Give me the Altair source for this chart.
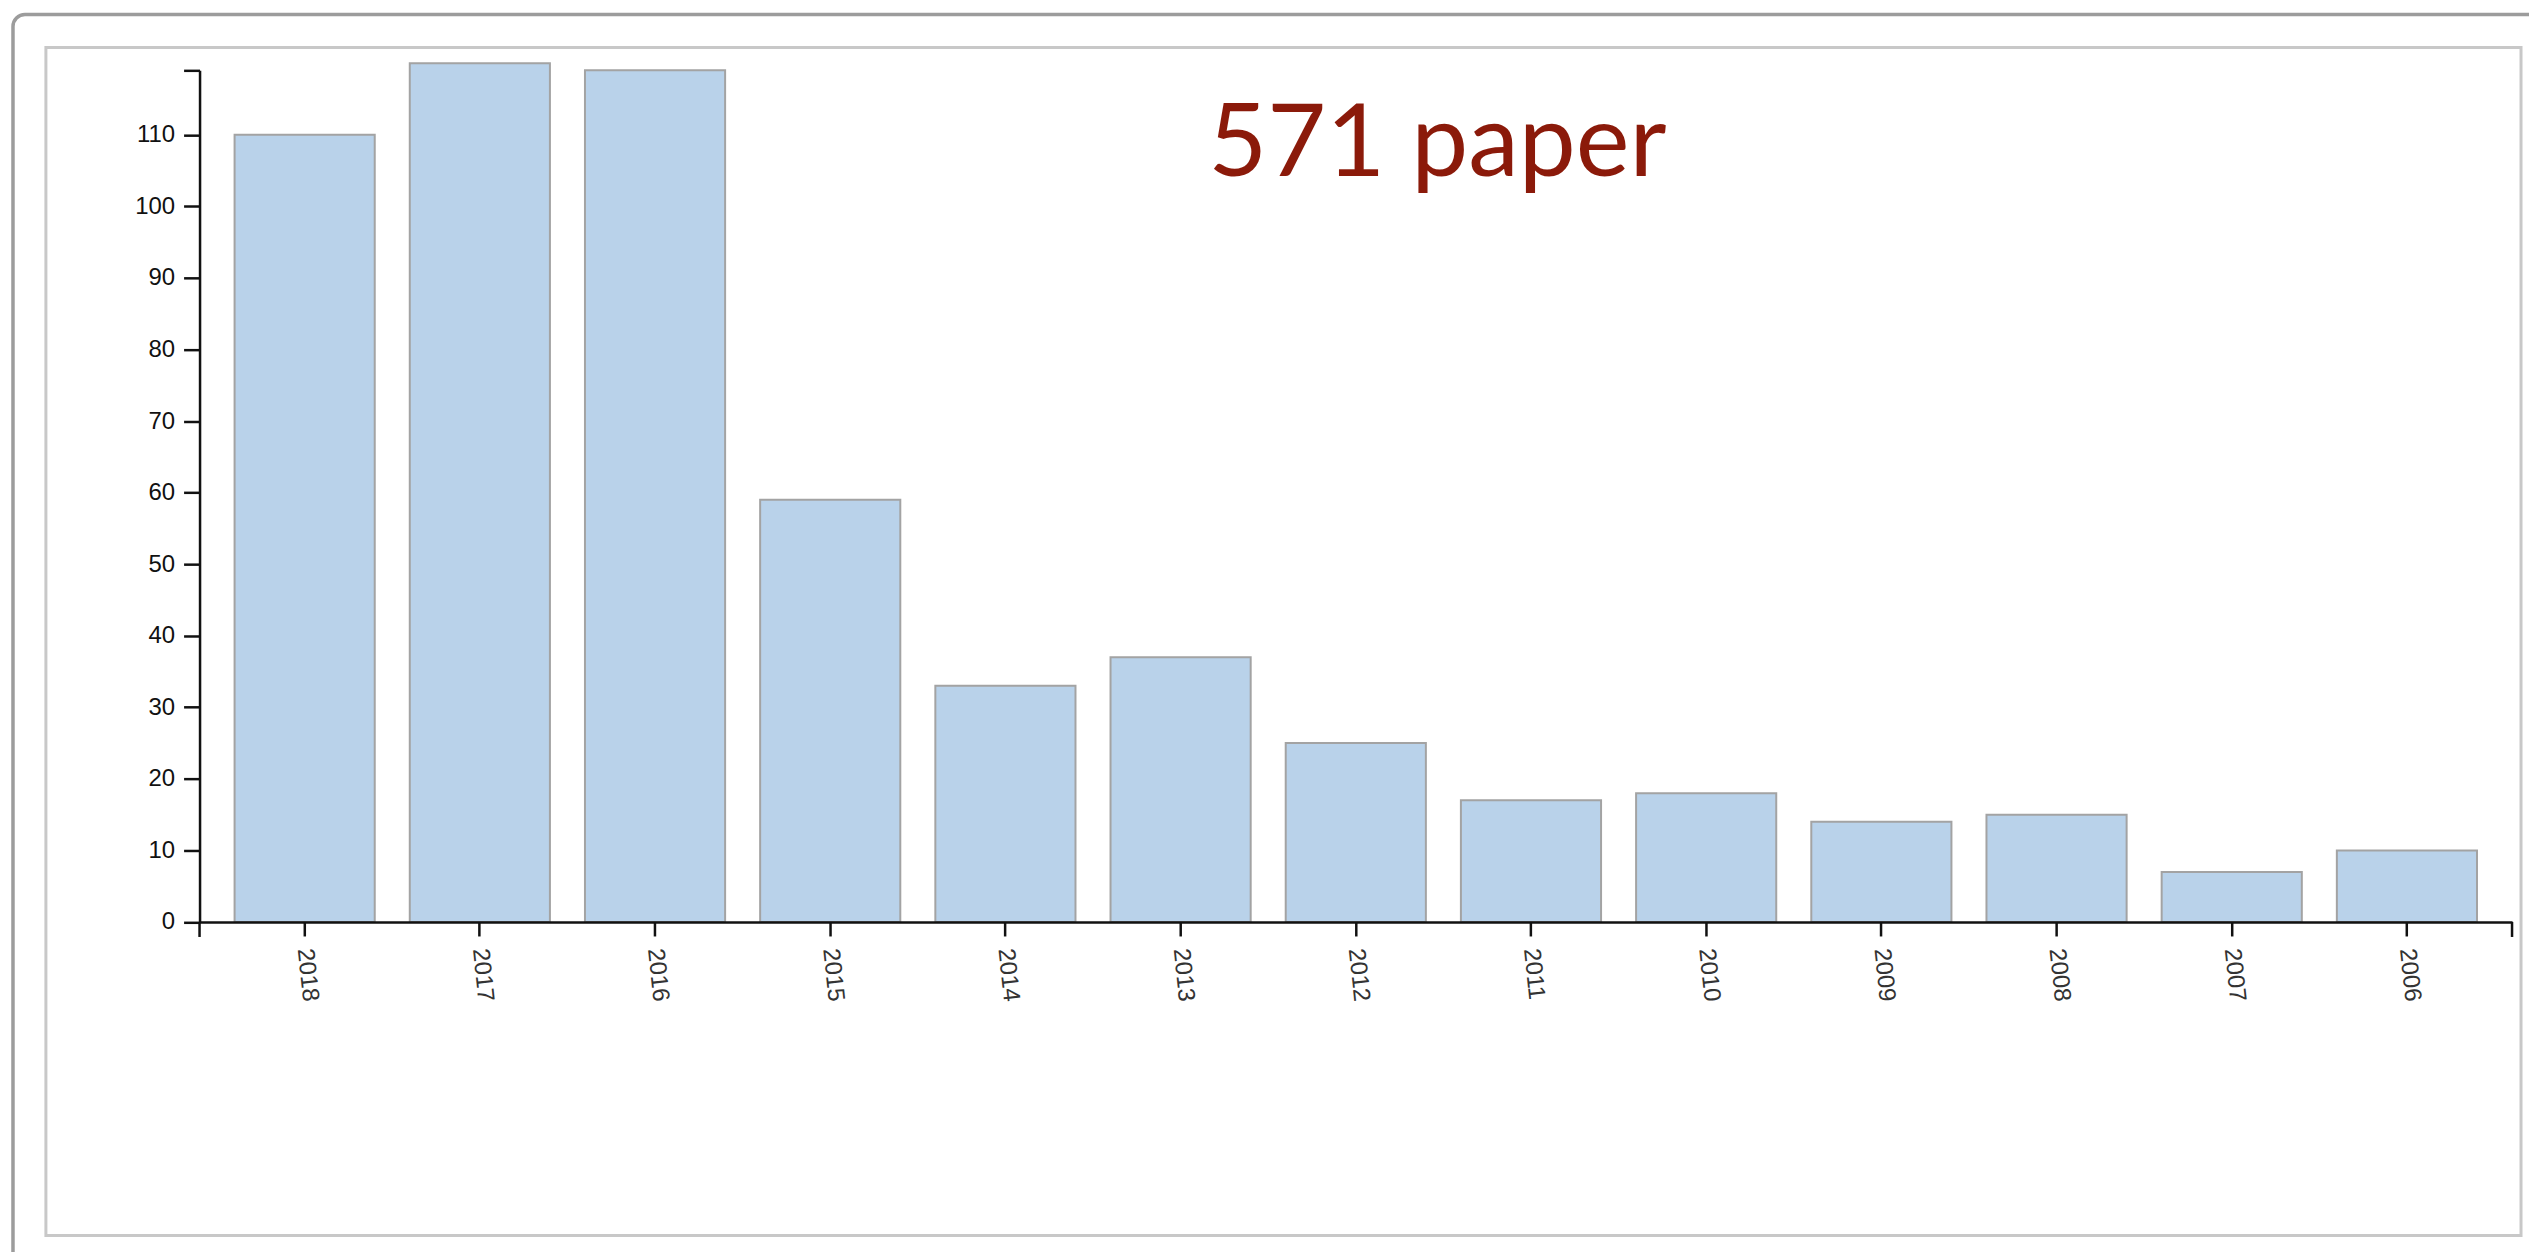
import altair as alt
import pandas as pd

years = ["2018", "2017", "2016", "2015", "2014", "2013", "2012",
         "2011", "2010", "2009", "2008", "2007", "2006"]
counts = [110, 120, 119, 59, 33, 37, 25, 17, 18, 14, 15, 7, 10]
y_ticks = [0, 10, 20, 30, 40, 50, 60, 70, 80, 90, 100, 110, 119]
title_text = "571 paper"

df = pd.DataFrame({"year": years, "count": counts})

W, H = 2481, 1191
X0, X1 = 154, 2472
Y0, Y1 = 876.7, 23

bars = alt.Chart(df).mark_bar(
    fill="#b9d2ea", stroke="#a3a3a3", strokeWidth=2
).encode(
    x=alt.X(
        "year:N", sort=years,
        scale=alt.Scale(range=[X0, X1], paddingInner=0.2, paddingOuter=0.2),
        axis=alt.Axis(
            title=None, orient="bottom", offset=Y0 - H, labelAngle=84,
            labelFont="Liberation Sans", labelFontSize=24, labelColor="#333",
            labelPadding=12, tickSize=14, tickWidth=2.5, tickColor="#111",
            domainColor="#111", domainWidth=2.5, grid=False, zindex=1,
        ),
    ),
    y=alt.Y(
        "count:Q",
        scale=alt.Scale(domain=[0, 119], range=[Y0, Y1], nice=False, zero=True),
        axis=alt.Axis(
            title=None, orient="left", offset=-X0, values=y_ticks,
            labelExpr="datum.value == 119 ? '' : datum.label",
            labelFont="Liberation Sans", labelFontSize=24, labelColor="#111",
            labelPadding=9, tickSize=16, tickWidth=2.5, tickColor="#111",
            domainColor="#111", domainWidth=2.5, grid=False, zindex=1,
        ),
    ),
)

one = pd.DataFrame({"t": [title_text]})

outer_ticks = alt.Chart(pd.DataFrame({"e": [X0, X1]})).mark_rule(
    color="#111", strokeWidth=2.5
).encode(
    x=alt.X("e:Q", scale=None),
    y=alt.value(Y0),
    y2=alt.value(Y0 + 15),
)

title = alt.Chart(one).mark_text(
    align="left", baseline="alphabetic", font="Lato", fontSize=102,
    fontWeight=400, color="#8b1a0a",
).encode(
    text="t:N",
    x=alt.value(1165),
    y=alt.value(129),
)

frame = alt.Chart(one).mark_rect(
    fillOpacity=0, stroke="#9c9c9c", strokeWidth=3.5, cornerRadius=12,
).encode(
    x=alt.value(-33), x2=alt.value(3200),
    y=alt.value(-33), y2=alt.value(3200),
)

chart = alt.layer(frame, bars, outer_ticks, title).properties(
    width=W, height=H,
    autosize=alt.AutoSizeParams(type="none"),
    padding={"left": 38, "top": 38, "right": 8, "bottom": 15},
    background="white",
).configure_view(
    stroke="#c8c8c8", strokeWidth=3,
)

chart.save("out.html", embed_options={"renderer": "svg", "actions": False})
